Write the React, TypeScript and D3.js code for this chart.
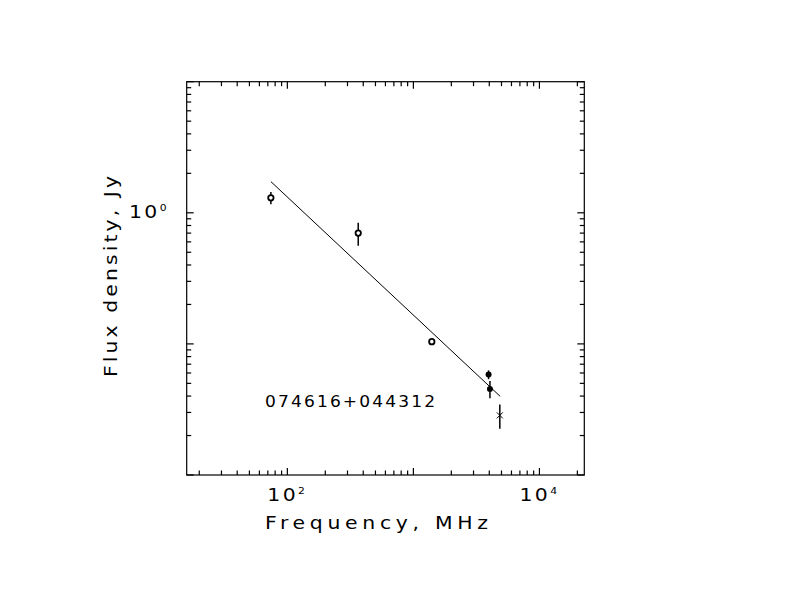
import React from "react";
import * as d3 from "d3";

// ---- data ----
const freqMHz = [74, 365, 1400, 3950, 4050, 4850];
const fluxJy = [1.3, 0.7, 0.104, 0.0583, 0.0453, 0.0285];
const fluxErr = [0.14, 0.14, 0.004, 0.0045, 0.0068, 0.006];
const markerKind = ["open", "open", "open", "filled", "filled", "cross"];

const fitFreqMHz = [74, 4880];
const fitFluxJy = [1.73, 0.0398];

const xDomain = [15.9, 22700];
const yDomain = [0.01, 10];
const xLabelTicks = [100, 10000];
const xLabelExp = ["2", "4"];
const yLabelTicks = [1];
const yLabelExp = ["0"];

const sourceName = "074616+044312";
const xTitle = "Frequency, MHz";
const yTitle = "Flux density, Jy";

const W = 792;
const H = 612;
const L = 186.7, R = 584.3, T = 81.7, B = 475;

const FONT = "'DejaVu Sans', 'Liberation Sans', sans-serif";
const SX = 1.2;

function minorTicks(lo: number, hi: number): { v: number; major: boolean }[] {
  const out: { v: number; major: boolean }[] = [];
  const e0 = Math.floor(Math.log10(lo)) - 1;
  const e1 = Math.ceil(Math.log10(hi)) + 1;
  for (let e = e0; e <= e1; e++) {
    for (let m = 1; m <= 9; m++) {
      const v = m * Math.pow(10, e);
      if (v >= lo * 0.9999 && v <= hi * 1.0001) out.push({ v, major: m === 1 });
    }
  }
  return out;
}

export default function App() {
  const x = d3.scaleLog().domain(xDomain).range([L, R]);
  const y = d3.scaleLog().domain(yDomain).range([B, T]);
  const xt = minorTicks(xDomain[0], xDomain[1]);
  const yt = minorTicks(yDomain[0], yDomain[1]);
  const majLen = 7, minLen = 4.5;

  const line = d3
    .line<number>()
    .x((_, i) => x(fitFreqMHz[i]))
    .y((d) => y(d));

  return (
    <svg
      width={W}
      height={H}
      style={{ position: "absolute", left: 0, top: 0, background: "#fff" }}
    >
      <rect x={0} y={0} width={W} height={H} fill="#fff" />
      <rect x={L} y={T} width={R - L} height={B - T} fill="none" stroke="#000" strokeWidth={1.2} />
      {xt.map((t, i) => {
        const px = x(t.v);
        const len = t.major ? majLen : minLen;
        return (
          <g key={"xt" + i} stroke="#000" strokeWidth={1.2}>
            <line x1={px} x2={px} y1={B} y2={B - len} />
            <line x1={px} x2={px} y1={T} y2={T + len} />
          </g>
        );
      })}
      {yt.map((t, i) => {
        const py = y(t.v);
        const len = t.major ? majLen : minLen;
        return (
          <g key={"yt" + i} stroke="#000" strokeWidth={1.2}>
            <line x1={L} x2={L + len} y1={py} y2={py} />
            <line x1={R} x2={R - len} y1={py} y2={py} />
          </g>
        );
      })}
      {xLabelTicks.map((v, i) => (
        <text
          key={"xl" + i}
          transform={`translate(${x(v)},501) scale(${SX},1)`}
          textAnchor="middle"
          fontFamily={FONT}
          fontSize={17}
          letterSpacing={2}
          fill="#000"
        >
          10
          <tspan fontSize={9} dy={-7}>{xLabelExp[i]}</tspan>
        </text>
      ))}
      {yLabelTicks.map((v, i) => (
        <text
          key={"yl" + i}
          transform={`translate(169,${y(v) + 5}) scale(${SX},1)`}
          textAnchor="end"
          fontFamily={FONT}
          fontSize={17}
          letterSpacing={2}
          fill="#000"
        >
          10
          <tspan fontSize={9} dy={-7}>{yLabelExp[i]}</tspan>
        </text>
      ))}
      <text
        transform={`translate(265,529) scale(${SX},1)`}
        fontFamily={FONT}
        fontSize={17}
        textLength={223 / SX}
        lengthAdjust="spacing"
        fill="#000"
      >
        {xTitle}
      </text>
      <text
        transform={`translate(117,377) rotate(-90) scale(${SX},1)`}
        fontFamily={FONT}
        fontSize={17}
        textLength={201 / SX}
        lengthAdjust="spacing"
        fill="#000"
      >
        {yTitle}
      </text>
      <text
        transform={`translate(265,407) scale(1.1,1)`}
        fontFamily={FONT}
        fontSize={15.5}
        textLength={170 / 1.1}
        lengthAdjust="spacing"
        fill="#000"
      >
        {sourceName}
      </text>
      <path
        d={line(fitFluxJy) || ""}
        fill="none"
        stroke="#000"
        strokeWidth={1}
      />
      {freqMHz.map((f, i) => {
        const px = x(f);
        const py = y(fluxJy[i]);
        const y1 = y(fluxJy[i] + fluxErr[i]);
        const y2 = y(fluxJy[i] - fluxErr[i]);
        const k = markerKind[i];
        return (
          <g key={"p" + i}>
            <line x1={px} x2={px} y1={y1} y2={y2} stroke="#000" strokeWidth={1.5} />
            {k === "open" && (
              <circle cx={px} cy={py} r={2.7} fill="#fff" stroke="#000" strokeWidth={1.8} />
            )}
            {k === "filled" && <circle cx={px} cy={py} r={3} fill="#000" />}
            {k === "cross" && (
              <g stroke="#000" strokeWidth={1}>
                <line x1={px - 3} x2={px + 3} y1={py - 3} y2={py + 3} />
                <line x1={px - 3} x2={px + 3} y1={py + 3} y2={py - 3} />
              </g>
            )}
          </g>
        );
      })}
    </svg>
  );
}
